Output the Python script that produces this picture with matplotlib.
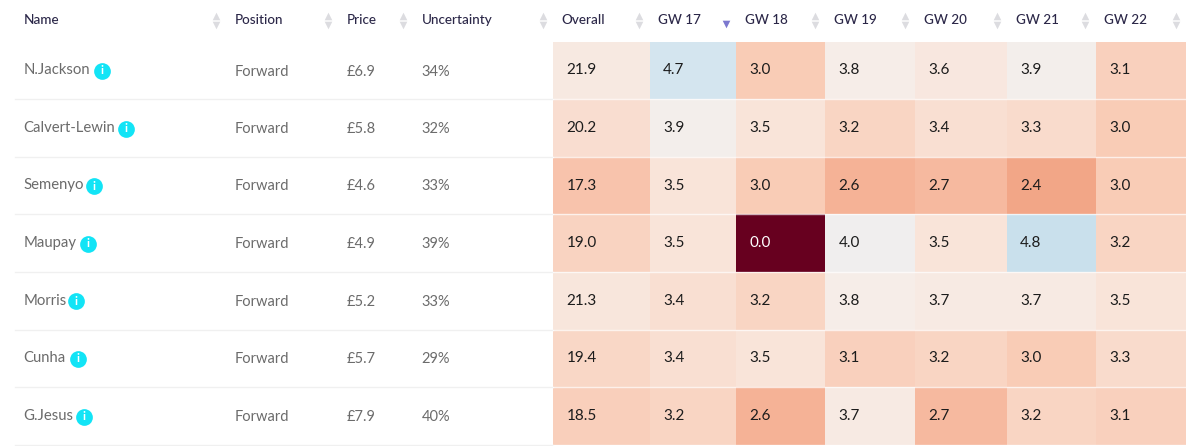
#!/usr/bin/env python3
"""Player projection table with a gameweek heatmap."""

import matplotlib

matplotlib.use("Agg")
import matplotlib.pyplot as plt
import numpy as np
from matplotlib.colors import LinearSegmentedColormap, Normalize

names = ["N.Jackson", "Calvert-Lewin", "Semenyo", "Maupay", "Morris", "Cunha", "G.Jesus"]
positions = ["Forward"] * 7
prices = ["£6.9", "£5.8", "£4.6", "£4.9", "£5.2", "£5.7", "£7.9"]
uncertainty = ["34%", "32%", "33%", "39%", "33%", "29%", "40%"]
overall = [21.9, 20.2, 17.3, 19.0, 21.3, 19.4, 18.5]
gw_labels = ["GW 17", "GW 18", "GW 19", "GW 20", "GW 21", "GW 22"]
gw_points = [
    [4.7, 3.0, 3.8, 3.6, 3.9, 3.1],
    [3.9, 3.5, 3.2, 3.4, 3.3, 3.0],
    [3.5, 3.0, 2.6, 2.7, 2.4, 3.0],
    [3.5, 0.0, 4.0, 3.5, 4.8, 3.2],
    [3.4, 3.2, 3.8, 3.7, 3.7, 3.5],
    [3.4, 3.5, 3.1, 3.2, 3.0, 3.3],
    [3.2, 2.6, 3.7, 2.7, 3.2, 3.1],
]

# layout, in reference pixels
ROW_EDGES = [42, 99, 157, 214, 272, 329.5, 387, 445]
COL_EDGES = [553, 649.5, 736, 825, 914.5, 1006.5, 1095.5, 1186]
ICON_X = [102, 125.5, 94, 88, 76, 78, 84]
HEADER_Y = 20
HEADER_X = [561.5, 658, 745, 834, 923.5, 1016, 1104]
SORT_X = [639, None, 815, 905, 997, 1084.5, 1175.5]
LEFT_X = {"name": 23.5, "position": 235, "price": 346.5, "uncertainty": 421.5}
LEFT_SORT_X = [216, 327.5, 402.5, 543]

HEADER_COLOR = "#2b2748"
BODY_COLOR = "#6b6b6b"
CELL_TEXT = "#1c1c1c"
LINE_COLOR = "#f0f0f0"
SORT_COLOR = "#dcdce0"
plt.rcParams["font.family"] = ["Lato", "DejaVu Sans"]

# reds below about 4 points, blues above
GW_MAX = 4.8
cmap = LinearSegmentedColormap.from_list(
    "gw",
    [
        (0.0, "#67001f"),
        (2.4 / GW_MAX, "#f2a586"),
        (2.7 / GW_MAX, "#f6b89e"),
        (3.0 / GW_MAX, "#f9cbb5"),
        (3.5 / GW_MAX, "#f9e4d9"),
        (3.8 / GW_MAX, "#f6ede8"),
        (4.0 / GW_MAX, "#f0eeee"),
        (4.7 / GW_MAX, "#d5e5ef"),
        (1.0, "#c9e0ec"),
    ],
)


def draw_sort_arrows(ax, x, y=20, color=SORT_COLOR, up=True, down=True):
    if up:
        ax.scatter([x], [y - 4], marker="^", s=30, color=color, linewidths=0, zorder=3)
    if down:
        ax.scatter([x], [y + 5], marker="v", s=30, color=color, linewidths=0, zorder=3)


def main():
    fig = plt.figure(figsize=(12, 4.46), dpi=100, facecolor="white")
    ax = fig.add_axes([0, 0, 1, 1])
    ax.set_xlim(0, 1200)
    ax.set_ylim(446, 0)
    ax.axis("off")

    # overall is six gameweeks added up, so it shares the per-week colour scale
    values = np.column_stack([overall, gw_points])
    shade = values.copy()
    shade[:, 0] = shade[:, 0] / 6
    ax.pcolormesh(COL_EDGES, ROW_EDGES, shade, cmap=cmap, norm=Normalize(0, GW_MAX), zorder=1)

    for y in ROW_EDGES[1:]:
        ax.plot([15, COL_EDGES[0]], [y, y], color=LINE_COLOR, lw=1, zorder=2)
        ax.plot([COL_EDGES[0], COL_EDGES[-1]], [y, y], color="white", lw=1, alpha=0.7, zorder=2)

    for label, x in zip(["Name", "Position", "Price", "Uncertainty"], LEFT_X.values()):
        ax.text(x, HEADER_Y, label, color=HEADER_COLOR, fontsize=9.7, fontweight="medium", va="center")
    for x in LEFT_SORT_X:
        draw_sort_arrows(ax, x)
    for label, x in zip(["Overall"] + gw_labels, HEADER_X):
        ax.text(x, HEADER_Y, label, color=HEADER_COLOR, fontsize=9.7, fontweight="medium", va="center")
    for x in SORT_X:
        if x is not None:
            draw_sort_arrows(ax, x)
    # GW 17 is the active sort column
    draw_sort_arrows(ax, 725.5, y=19, color="#7c78cf", up=False)

    for i, name in enumerate(names):
        y = (ROW_EDGES[i] + ROW_EDGES[i + 1]) / 2
        ax.text(LEFT_X["name"], y, name, color=BODY_COLOR, fontsize=10.7, va="center")
        ax.text(LEFT_X["position"], y + 1, positions[i], color=BODY_COLOR, fontsize=10.5, va="center")
        ax.text(LEFT_X["price"], y + 1, prices[i], color=BODY_COLOR, fontsize=10.5, va="center")
        ax.text(LEFT_X["uncertainty"], y + 1, uncertainty[i], color=BODY_COLOR, fontsize=10.5, va="center")
        ax.scatter([ICON_X[i]], [y + 0.5], s=145, color="#12e4f6", linewidths=0, zorder=3)
        ax.text(ICON_X[i], y + 0.5, "i", color="white", fontsize=8.5, fontweight="bold",
                ha="center", va="center", zorder=4)

        for j in range(values.shape[1]):
            ax.text(COL_EDGES[j] + 13.5, y, f"{values[i, j]:.1f}",
                    color="white" if shade[i, j] < 1 else CELL_TEXT,
                    fontsize=11, va="center", zorder=3)

    fig.savefig("out.png", dpi=100, facecolor="white")
    plt.close(fig)


if __name__ == "__main__":
    main()
